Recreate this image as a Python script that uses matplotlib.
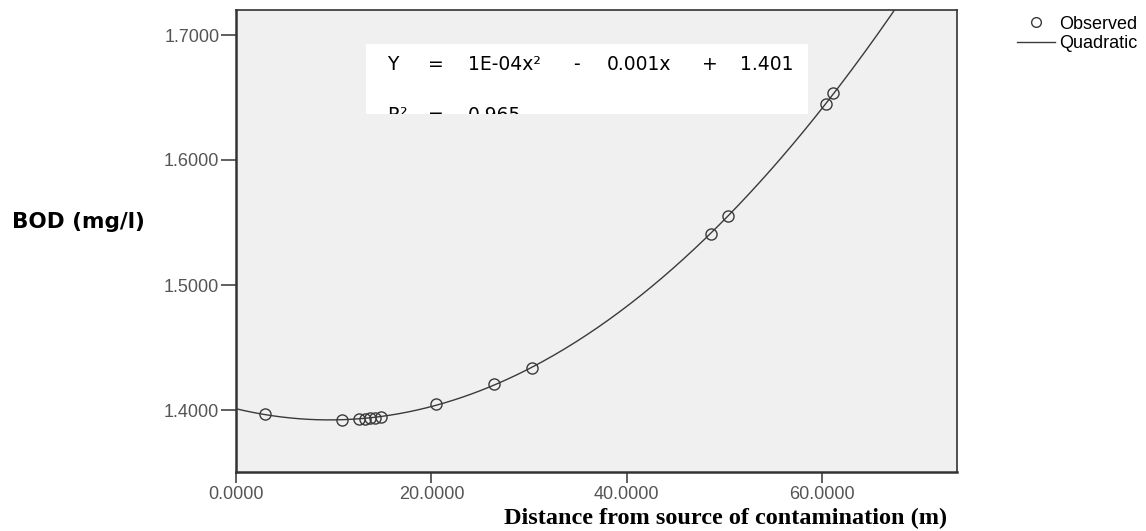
import numpy as np
import matplotlib
matplotlib.use("Agg")
import matplotlib.pyplot as plt
from matplotlib.patches import Rectangle
from matplotlib.lines import Line2D
from matplotlib.transforms import Bbox, TransformedBbox

# observed points
distance = [2.97, 10.9, 12.6, 13.2, 13.7, 14.2, 14.8, 20.45, 26.4, 30.25, 48.6, 50.36, 60.43, 61.1]
bod = [1.3966, 1.3922, 1.3926, 1.3931, 1.3935, 1.3940, 1.3948, 1.4045, 1.4206, 1.4336,
       1.5410, 1.5554, 1.6448, 1.6534]

x_ticks = [0, 20, 40, 60]
y_ticks = [1.4, 1.5, 1.6, 1.7]
x_lim = (0, 73.8)
y_lim = (1.3504, 1.7200)

eq_tokens = ["Y", "=", "1E-04x\u00b2", "-", "0.001x", "+", "1.401"]
eq_x = [387, 428, 468, 573, 607, 702, 740]          # pixel x of each token
r2_tokens = ["R\u00b2", "=", "0.965"]
r2_x = [387, 428, 468]

line_col = "#3a3a3a"
tick_col = "#444444"

# quadratic fit, like the original chart
coef = np.polyfit(distance, bod, 2)
xs = np.linspace(x_lim[0], x_lim[1], 400)
ys = np.polyval(coef, xs)

fig = plt.figure(figsize=(11.46, 5.31), dpi=100)
ax = fig.add_axes([236 / 1146, 59 / 531, 721 / 1146, 462 / 531])
ax.set_facecolor("#f0f0f0")

ax.plot(xs, ys, color=line_col, lw=1.0, zorder=3)
ax.plot(distance, bod, "o", ms=8, mfc="none", mec=line_col, mew=1.0, zorder=4)

ax.set_xlim(*x_lim)
ax.set_ylim(*y_lim)
ax.set_xticks(x_ticks)
ax.set_yticks(y_ticks)
ax.set_xticklabels([f"{v:.4f}" for v in x_ticks])
ax.set_yticklabels([f"{v:.4f}" for v in y_ticks])
ax.tick_params(axis="both", direction="out", colors=tick_col, labelsize=13,
               labelcolor="#555555")
ax.tick_params(axis="x", length=8, width=1.2, pad=2)
ax.tick_params(axis="y", length=11, width=1.2, pad=1)
for lab in ax.get_xticklabels() + ax.get_yticklabels():
    lab.set_fontfamily("Liberation Sans")

for side in ["left", "bottom"]:
    ax.spines[side].set_linewidth(1.8)
    ax.spines[side].set_color("#333333")
for side in ["top", "right"]:
    ax.spines[side].set_linewidth(1.2)
    ax.spines[side].set_color("#333333")

# equation box (second line cut off at the bottom, as in the original)
bx0, by0, bw, bh = 0.1803, 0.7749, 0.613, 0.1515
box = Rectangle((bx0, by0), bw, bh, transform=ax.transAxes,
                facecolor="white", edgecolor="none", zorder=5)
ax.add_patch(box)
clip = TransformedBbox(Bbox([[bx0, by0], [bx0 + bw, by0 + bh]]), ax.transAxes)


def px_to_ax(px):
    return (px - 236) / 721


for tok, px in zip(eq_tokens, eq_x):
    ax.text(px_to_ax(px), 0.870, tok, transform=ax.transAxes, fontsize=13.5,
            fontfamily="DejaVu Sans", va="baseline", zorder=6)
for tok, px in zip(r2_tokens, r2_x):
    t = ax.text(px_to_ax(px), 0.760, tok, transform=ax.transAxes, fontsize=13.5,
                fontfamily="DejaVu Sans", va="baseline", zorder=6, clip_on=True)
    t.set_clip_box(clip)

# legend outside
handles = [Line2D([], [], marker="o", ls="none", ms=7, mfc="none", mec=line_col, mew=1.0),
           Line2D([], [], color=line_col, lw=1.0)]
fig.legend(handles, ["Observed", "Quadratic"], loc="upper left",
           bbox_to_anchor=(1004 / 1146, 1 - 3 / 531), frameon=False,
           prop={"family": "Liberation Sans", "size": 13}, handlelength=2.1,
           handletextpad=0.25, labelspacing=0.15, borderpad=0.2)

fig.text(12 / 1146, 1 - 222 / 531, "BOD (mg/l)", fontsize=15.5, fontweight="bold",
         fontfamily="DejaVu Sans", va="center", ha="left")
fig.text(726 / 1146, 1 - 518 / 531, "Distance from source of contamination (m)",
         fontsize=17.5, fontweight="bold", fontfamily="Liberation Serif",
         va="center", ha="center")

fig.savefig("out.png", dpi=100)
